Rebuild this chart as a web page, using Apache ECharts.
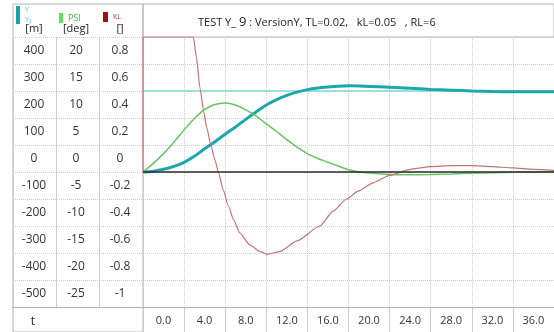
<!DOCTYPE html>
<html>
<head>
<meta charset="utf-8">
<script src="https://cdn.jsdelivr.net/npm/echarts@6/dist/echarts.min.js"></script>
<style>
html, body { margin: 0; padding: 0; background: #fff; }
#chart { width: 554px; height: 332px; }
</style>
</head>
<body>
<div id="chart"></div>
<script>
// Y [m]
const yTime = [0, 1, 2, 3, 4, 5, 6, 7, 8, 9, 10, 11, 12, 13, 14, 15, 16, 17, 18, 19, 20, 22, 24, 26, 28, 30, 32, 34, 36, 38, 40]
const yValues = [0, 3, 10, 21, 36, 58, 86, 112, 140, 167, 195, 222, 248, 268, 284, 296, 305, 311, 315, 318, 319, 317, 314, 310, 306, 303, 300, 298, 297, 297, 297]

// Y2 reference [m]
const y2Time = [0, 40]
const y2Values = [300, 300]

// PSI [deg]
const psiTime = [0, 1, 2, 3, 4, 5, 6, 7, 8, 9, 10, 11, 12, 13, 14, 15, 16, 17, 18, 19, 20, 21, 22, 24, 26, 28, 30, 32, 34, 36, 38, 40]
const psiValues = [0, 1.6, 3.4, 5.5, 7.8, 9.9, 11.6, 12.5, 12.8, 12.4, 11.5, 10.4, 8.9, 7.5, 6.0, 4.6, 3.4, 2.5, 1.8, 1.1, 0.4, 0, -0.2, -0.45, -0.5, -0.45, -0.35, -0.22, -0.12, -0.05, 0, 0]

// KL []
const klTime = [0, 0, 4.9, 5.2, 5.55, 5.9, 6.2, 6.6, 7.0, 7.33, 7.8, 8.3, 8.8, 9.4, 10.4, 11.4, 12.1, 13.3, 15.0, 17.2, 18.5, 19.8, 21, 22.4, 24, 26, 28, 30, 32, 34, 36, 38, 40]
const klValues = [0, 1.0, 1.0, 0.85, 0.62, 0.45, 0.33, 0.2, 0.09, 0.0, -0.13, -0.25, -0.35, -0.45, -0.54, -0.59, -0.61, -0.59, -0.51, -0.40, -0.29, -0.20, -0.14, -0.08, -0.025, 0.02, 0.04, 0.047, 0.047, 0.04, 0.03, 0.02, 0.012]

const titleText = 'TEST Y_ {n|9} : VersionY, TL=0.02,   kL=0.05   , RL=6'

const font = 'Open Sans'
const frameColor = '#b4b4b4'
const gridColor = '#cdcdcd'

const pairs = (t, v) => t.map((x, i) => [x, v[i]])

// label column of the left table, labels sit in the row above their line
const labelAxis = (min, max, step, offset, unit, showSplit) => ({
  type: 'value',
  gridIndex: 1,
  min: min,
  max: max,
  interval: step,
  position: 'left',
  offset: offset,
  axisLine: { show: false },
  axisTick: { show: false },
  splitLine: { show: showSplit, lineStyle: { color: gridColor, type: 'dotted' } },
  axisLabel: {
    showMaxLabel: false,
    showMinLabel: true,
    align: 'center',
    verticalAlign: 'bottom',
    lineHeight: 26,
    margin: 0,
    color: '#333',
    fontSize: 12,
    fontFamily: font
  },
  name: unit,
  nameLocation: 'end',
  nameGap: 1,
  nameTextStyle: { color: '#222', fontSize: 11, fontFamily: font, lineHeight: 14 }
})

const hiddenAxis = (idx) => ({ type: 'value', gridIndex: idx, show: false })

const chart = echarts.init(document.getElementById('chart'))

chart.setOption({
  animation: false,
  backgroundColor: '#fff',
  title: {
    text: titleText,
    left: 193,
    top: 11,
    textStyle: {
      fontSize: 11,
      fontWeight: 'normal',
      color: '#222',
      fontFamily: font,
      rich: { n: { fontSize: 13, color: '#222', fontFamily: font } }
    }
  },
  legend: [
    {
      data: [{ name: 'Y', icon: 'rect', itemStyle: { color: '#17a3a9' } }],
      left: 16, top: 6, padding: 0,
      itemWidth: 4, itemHeight: 18,
      selectedMode: false,
      formatter: () => '{a|Y}\n{b|Y₂}',
      textStyle: {
        rich: {
          a: { fontSize: 7, color: '#33c2de', lineHeight: 10, fontFamily: font },
          b: { fontSize: 7, color: '#62aee6', lineHeight: 10, fontFamily: font }
        }
      }
    },
    {
      data: [{ name: 'PSI', icon: 'rect', itemStyle: { color: '#5ee25e' } }],
      left: 59, top: 13, padding: 0,
      itemWidth: 4, itemHeight: 10,
      selectedMode: false,
      textStyle: { fontSize: 9, color: '#45b845', fontFamily: font }
    },
    {
      data: [{ name: 'KL', icon: 'rect', itemStyle: { color: '#a30e0e' } }],
      left: 103, top: 12, padding: 0,
      itemWidth: 5, itemHeight: 10,
      selectedMode: false,
      textStyle: { fontSize: 7, color: '#c03838', fontFamily: font }
    }
  ],
  grid: [
    // plot
    { left: 143, top: 37, width: 411, height: 270 },
    // table rows
    { left: 13, top: 37, width: 130, height: 270 },
    // table frame (full height)
    { left: 13, top: 4, width: 130, bottom: -2, show: true, borderColor: frameColor, borderWidth: 1, backgroundColor: 'transparent' },
    // title row
    { left: 143, top: 4, right: -2, height: 33, show: true, borderColor: frameColor, borderWidth: 1, backgroundColor: 'transparent' },
    // t row
    { left: 143, top: 307, width: 411, height: 25 }
  ],
  xAxis: [
    {
      type: 'value',
      gridIndex: 0,
      min: 0,
      max: 40,
      interval: 4,
      axisLine: { show: true, onZero: false, lineStyle: { color: frameColor, width: 1 } },
      axisTick: { show: false },
      splitLine: { show: true, lineStyle: { color: gridColor, type: 'dotted' } },
      axisLabel: {
        showMaxLabel: false,
        margin: 8,
        padding: [0, 0, 0, 41],
        color: '#333',
        fontSize: 11,
        fontFamily: font,
        formatter: (v) => v.toFixed(1)
      },
      name: 't',
      nameLocation: 'start',
      nameGap: 108,
      nameTextStyle: { color: '#222', fontSize: 12, fontFamily: font, verticalAlign: 'top', padding: [9, 0, 0, 0] }
    },
    {
      type: 'value',
      gridIndex: 1,
      min: 0,
      max: 3,
      interval: 1,
      axisLine: { show: true, onZero: false, lineStyle: { color: frameColor } },
      axisTick: { show: false },
      axisLabel: { show: false },
      splitLine: { show: true, lineStyle: { color: gridColor } }
    },
    hiddenAxis(2),
    hiddenAxis(3),
    {
      type: 'value',
      gridIndex: 4,
      min: 0,
      max: 40,
      interval: 4,
      axisLine: { show: false },
      axisTick: { show: false },
      axisLabel: { show: false },
      splitLine: { show: true, lineStyle: { color: gridColor } }
    }
  ],
  yAxis: [
    {
      type: 'value',
      gridIndex: 0,
      min: -500,
      max: 500,
      interval: 100,
      axisLine: { show: false },
      axisTick: { show: false },
      axisLabel: { show: false },
      splitLine: { show: true, lineStyle: { color: gridColor, type: 'dotted' } }
    },
    { type: 'value', gridIndex: 0, min: -25, max: 25, interval: 5, show: false, splitLine: { show: false } },
    { type: 'value', gridIndex: 0, min: -1, max: 1, interval: 0.2, show: false, splitLine: { show: false } },
    labelAxis(-500, 500, 100, -21, '[m]', true),
    labelAxis(-25, 25, 5, -63, '[deg]', false),
    labelAxis(-1, 1, 0.2, -107, '[]', false),
    hiddenAxis(2),
    hiddenAxis(3),
    hiddenAxis(4)
  ],
  series: [
    {
      name: 'Y₂',
      type: 'line',
      xAxisIndex: 0,
      yAxisIndex: 0,
      data: pairs(y2Time, y2Values),
      showSymbol: false,
      lineStyle: { color: '#80d8d8', width: 1.5 },
      markLine: {
        silent: true,
        symbol: 'none',
        label: { show: false },
        lineStyle: { color: '#2a2a2a', width: 1.5, type: 'solid' },
        data: [{ yAxis: 0 }]
      }
    },
    {
      name: 'Y',
      type: 'line',
      xAxisIndex: 0,
      yAxisIndex: 0,
      data: pairs(yTime, yValues),
      showSymbol: false,
      smooth: 0.3,
      itemStyle: { color: '#1da7ac' },
      lineStyle: { color: '#1da7ac', width: 3 }
    },
    {
      name: 'PSI',
      type: 'line',
      xAxisIndex: 0,
      yAxisIndex: 1,
      data: pairs(psiTime, psiValues),
      showSymbol: false,
      smooth: 0.3,
      itemStyle: { color: '#66c466' },
      lineStyle: { color: '#66c466', width: 1.5 }
    },
    {
      name: 'KL',
      type: 'line',
      xAxisIndex: 0,
      yAxisIndex: 2,
      data: pairs(klTime, klValues),
      showSymbol: false,
      smooth: 0.2,
      smoothMonotone: 'x',
      itemStyle: { color: '#c27474' },
      lineStyle: { color: '#c27474', width: 1.2 }
    }
  ]
})
</script>
</body>
</html>
